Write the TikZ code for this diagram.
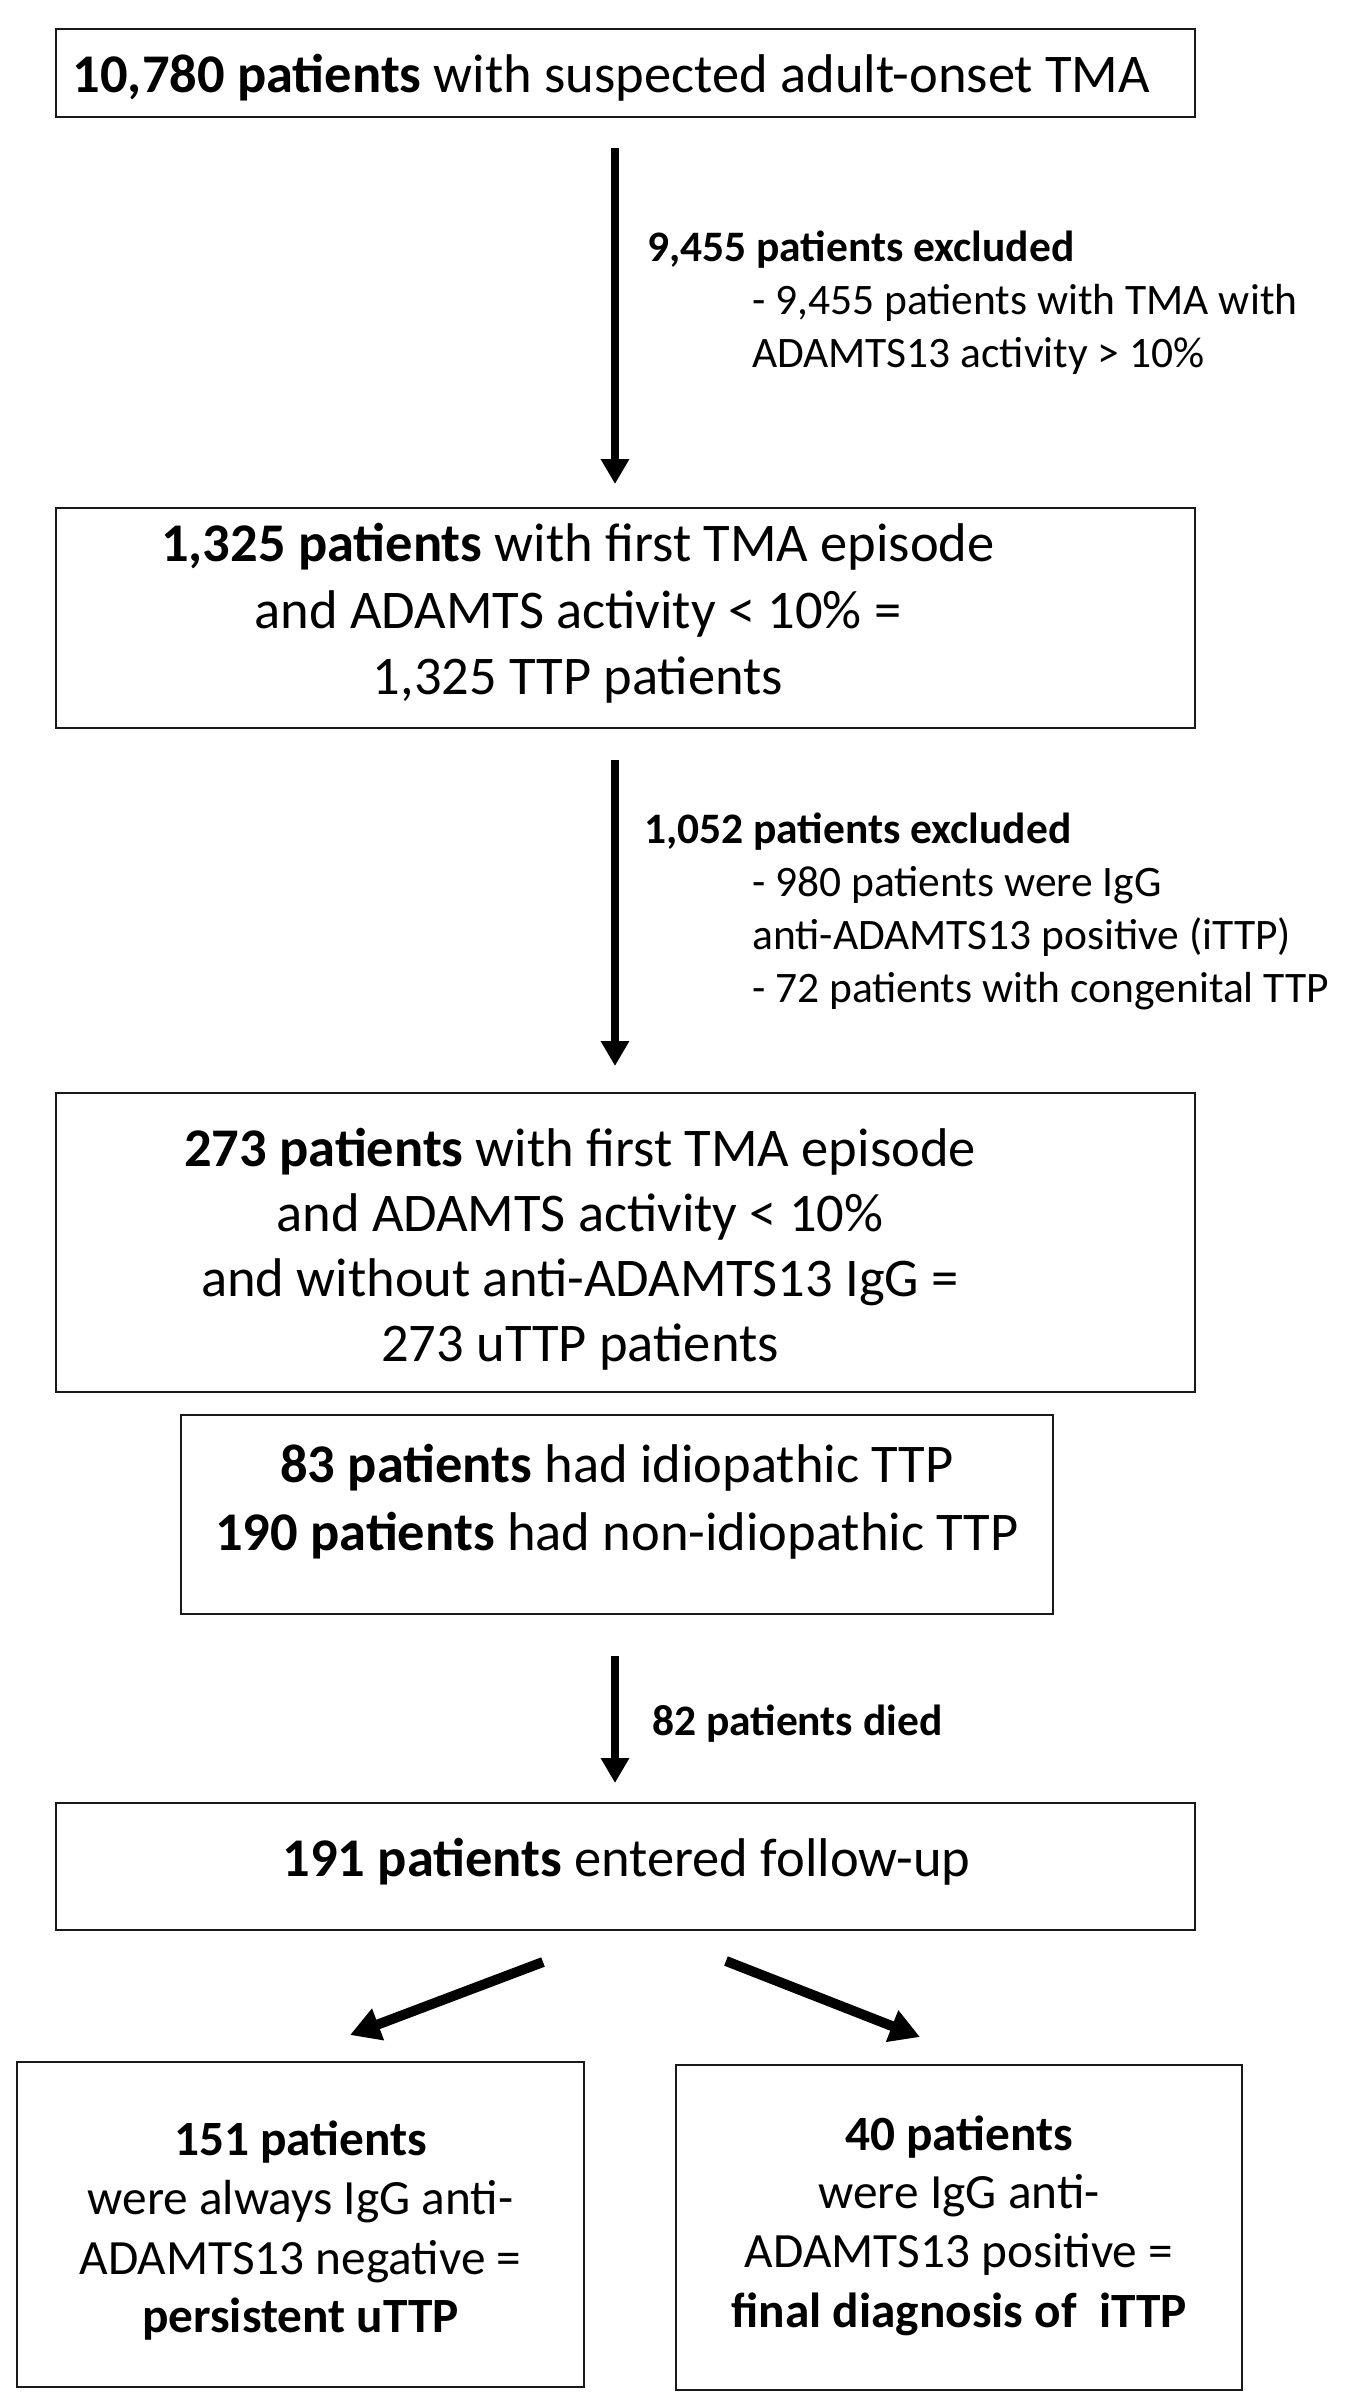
\documentclass[tikz,border=0pt]{standalone}
\usepackage{fontspec}
\setmainfont{Carlito}
\usetikzlibrary{arrows.meta}
\begin{document}
\begin{tikzpicture}[x=1pt,y=-1pt,
  box/.style={draw=black!90, line width=2.6pt, inner sep=0pt, outer sep=0pt},
  big/.style={font=\fontsize{54.5}{65}\selectfont, inner sep=0pt, anchor=base},
  mid/.style={font=\fontsize{49.3}{59}\selectfont, inner sep=0pt, anchor=base},
  note/.style={font=\fontsize{43.5}{52}\selectfont, inner sep=0pt, anchor=base west},
  arr/.style={line width=8pt, -{Triangle[width=27pt,length=25pt]}},
  darr/.style={line width=10pt, -{Triangle[width=32pt,length=30pt]}}
]
\fill[white] (0,0) rectangle (1346,2405);
\useasboundingbox (0,0) rectangle (1346,2405);

% boxes
\node[box, minimum width=1139pt, minimum height=88pt]  (b1) at (625.5,73) {};
\node[box, minimum width=1139pt, minimum height=220pt] (b2) at (625.5,618) {};
\node[box, minimum width=1139pt, minimum height=299pt] (b3) at (625.5,1242.5) {};
\node[box, minimum width=872pt,  minimum height=199pt] (b4) at (617,1514.5) {};
\node[box, minimum width=1139pt, minimum height=127pt] (b5) at (625.5,1866.5) {};
\node[box, minimum width=567pt,  minimum height=325pt] (b6) at (300.5,2224.5) {};
\node[box, minimum width=566pt,  minimum height=325pt] (b7) at (959,2227.5) {};

% box texts
\node[big] (t1) at (611.5,93) {\textbf{10,780 patients} with suspected adult-onset TMA};

\node[big] (t2a) at (578,561) {\textbf{1,325 patients} with first TMA episode};
\node[big] (t2b) at (578,628) {and ADAMTS activity < 10\% =};
\node[big] (t2c) at (578,694) {1,325 TTP patients};

\node[big] (t3a) at (580,1166) {\textbf{273 patients} with first TMA episode};
\node[big] (t3b) at (580,1231) {and ADAMTS activity < 10\%};
\node[big] (t3c) at (580,1296) {and without anti-ADAMTS13 IgG =};
\node[big] (t3d) at (580,1361) {273 uTTP patients};

\node[big] (t4a) at (617,1482) {\textbf{83 patients} had idiopathic TTP};
\node[big] (t4b) at (617,1550) {\textbf{190 patients} had non-idiopathic TTP};

\node[big] (t5) at (626.5,1876) {\textbf{191 patients} entered follow-up};

\node[mid] (t6a) at (300.5,2155) {\textbf{151 patients}};
\node[mid] (t6b) at (300.5,2214) {were always IgG anti-};
\node[mid] (t6c) at (300.5,2274) {ADAMTS13 negative =};
\node[mid] (t6d) at (300.5,2332) {\textbf{persistent uTTP}};

\node[mid] (t7a) at (959,2150) {\textbf{40 patients}};
\node[mid] (t7b) at (959,2208) {were IgG anti-};
\node[mid] (t7c) at (959,2267) {ADAMTS13 positive =};
\node[mid] (t7d) at (959,2327) {\textbf{final diagnosis of\ \ iTTP}};

% annotations
\node[note] (n1a) at (647,262) {\textbf{9,455 patients excluded}};
\node[note] (n1b) at (752,315) {- 9,455 patients with TMA with};
\node[note] (n1c) at (752,367) {ADAMTS13 activity > 10\%};

\node[note] (n2a) at (644,843) {\textbf{1,052 patients excluded}};
\node[note] (n2b) at (752,896) {- 980 patients were IgG};
\node[note] (n2c) at (752,949) {anti-ADAMTS13 positive (iTTP)};
\node[note] (n2d) at (752,1002) {- 72 patients with congenital TTP};

\node[note] (n3a) at (652,1735) {\textbf{82 patients died}};

% arrows
\draw[arr, shorten <=31pt, shorten >=24pt] ([xshift=-10.5pt]b1.south) -- ([xshift=-10.5pt]b2.north);
\draw[arr, shorten <=32pt, shorten >=27pt] ([xshift=-10.5pt]b2.south) -- ([xshift=-10.5pt]b3.north);
\draw[arr, shorten <=42pt, shorten >=20pt] ([xshift=-2pt]b4.south) -- ([xshift=-10.5pt]b5.north);
\draw[darr] ([xshift=-82.5pt,yshift=-32pt]b5.south) -- ([xshift=49.5pt,yshift=27pt]b6.north);
\draw[darr] ([xshift=100.5pt,yshift=-31pt]b5.south) -- ([xshift=-39pt,yshift=28pt]b7.north);
\end{tikzpicture}
\end{document}
